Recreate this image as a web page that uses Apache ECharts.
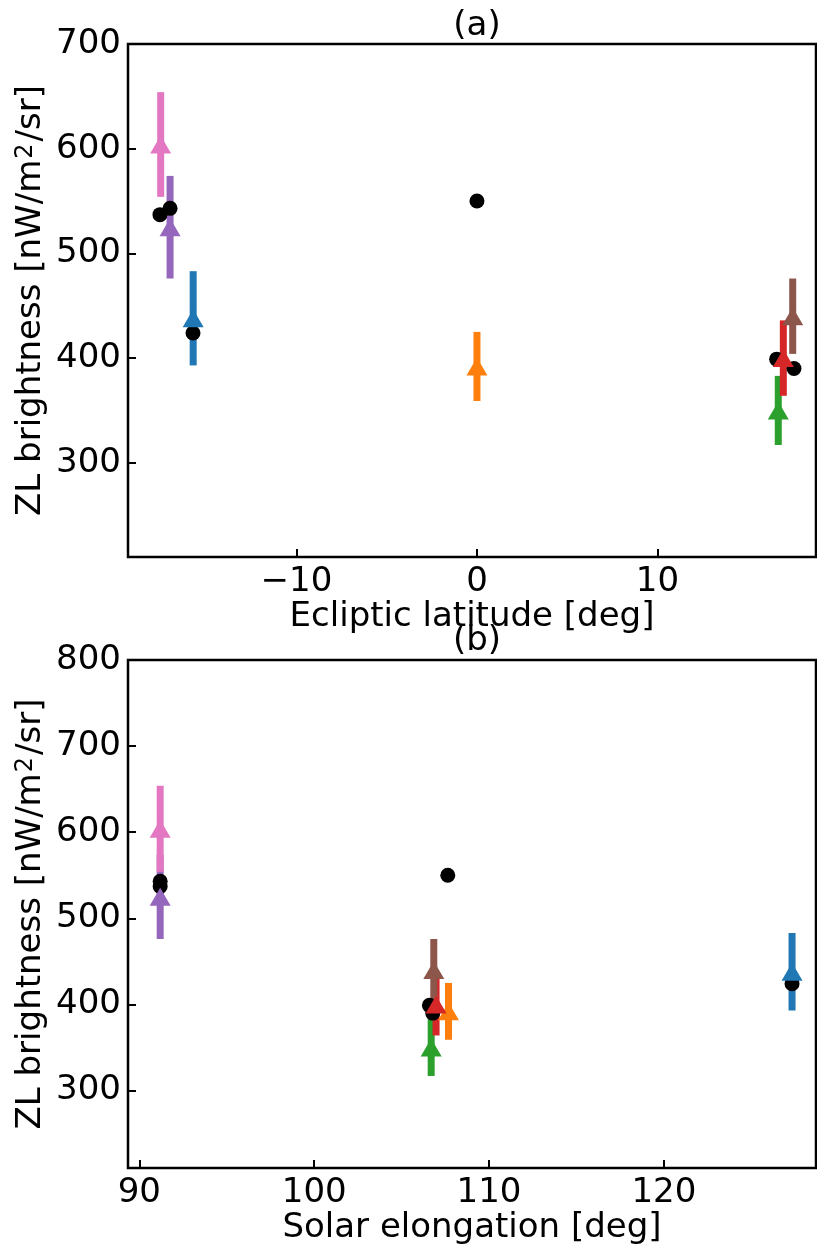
<!DOCTYPE html>
<html><head><meta charset="utf-8">
<script src="https://cdn.jsdelivr.net/npm/echarts@6/dist/echarts.min.js"></script>
<style>html,body{margin:0;padding:0;background:#fff}#c{width:817px;height:1246px}</style>
</head><body><div id="c"></div>
<script>
const fieldColors = ['#1f77b4','#ff7f0e','#2ca02c','#d62728','#9467bd','#8c564b','#e377c2'];
const fieldLatitude = [-15.72, 0.0, 16.69, 16.97, -17.0, 17.49, -17.52];
const fieldElongation = [127.33, 107.68, 106.69, 106.97, 91.19, 106.84, 91.19];
const observedZL = [438, 392, 350, 400, 525, 440, 604];
const observedErr = [45, 33, 33, 36, 49, 36, 50];
const modelLatitude = [-15.73, 0.0, 16.6, -17.0, 17.56, -17.56];
const modelElongation = [127.33, 107.64, 106.59, 91.19, 106.78, 91.19];
const modelZL = [424, 550, 399, 543, 390, 537];
const latTicks = [-10, 0, 10];
const elongTicks = [90, 100, 110, 120];
const zlTicksA = [300, 400, 500, 600, 700];
const zlTicksB = [300, 400, 500, 600, 700, 800];

const FONT = 'DejaVu Sans';
const FS = 34;

function errRender(params, api) {
  const x = api.value(0), lo = api.value(1), hi = api.value(2);
  const p1 = api.coord([x, lo]), p2 = api.coord([x, hi]);
  return {type: 'line', shape: {x1: p1[0], y1: p1[1], x2: p2[0], y2: p2[1]},
    style: {stroke: fieldColors[params.dataIndex], lineWidth: 7}};
}

function xAxisCfg(gi, min, max, ticks, name, gap) {
  return {
    type: 'value', gridIndex: gi, min: min, max: max,
    name: name, nameLocation: 'middle', nameGap: gap,
    nameTextStyle: {fontFamily: FONT, fontSize: FS, color: '#000'},
    axisLine: {show: false, onZero: false},
    axisTick: {show: true, inside: true, length: 8, lineStyle: {color: '#000', width: 2}, customValues: ticks},
    axisLabel: {fontFamily: FONT, fontSize: FS, color: '#000', margin: 8, customValues: ticks,
      formatter: v => (v < 0 ? '\u2212' + Math.abs(v) : String(v))},
    splitLine: {show: false}
  };
}
function yAxisCfg(gi, min, max, ticks) {
  return {
    type: 'value', gridIndex: gi, min: min, max: max,
    name: 'ZL brightness [nW/m{sup|2}/sr]', nameLocation: 'middle', nameGap: 80,
    nameMoveOverlap: false,
    nameTextStyle: {fontFamily: FONT, fontSize: FS, color: '#000',
      rich: {sup: {fontFamily: FONT, fontSize: 24, color: '#000', verticalAlign: 'top', padding: [0, 2, 0, 1]}}},
    axisLine: {show: false, onZero: false},
    axisTick: {show: true, inside: true, length: 8, lineStyle: {color: '#000', width: 2}, customValues: ticks},
    axisLabel: {fontFamily: FONT, fontSize: FS, color: '#000', margin: 7, customValues: ticks},
    splitLine: {show: false}
  };
}

function panelSeries(gi, xs, mxs) {
  const err = xs.map((x, i) => [x, observedZL[i] - observedErr[i], observedZL[i] + observedErr[i]]);
  const obs = xs.map((x, i) => ({value: [x, observedZL[i]], itemStyle: {color: fieldColors[i]}}));
  const mod = mxs.map((x, i) => [x, modelZL[i]]);
  return [
    {type: 'custom', xAxisIndex: gi, yAxisIndex: gi, renderItem: errRender, data: err, z: 1, silent: true},
    {type: 'scatter', xAxisIndex: gi, yAxisIndex: gi, symbol: 'circle', symbolSize: 15,
      itemStyle: {color: '#000', opacity: 1}, data: mod, z: 2, silent: true},
    {type: 'scatter', xAxisIndex: gi, yAxisIndex: gi, symbol: 'triangle', symbolSize: [21, 18],
      itemStyle: {opacity: 1}, data: obs, z: 3, silent: true}
  ];
}

const chart = echarts.init(document.getElementById('c'), null, {renderer: 'canvas'});
chart.setOption({
  animation: false,
  backgroundColor: '#fff',
  title: [
    {text: '(a)', left: 477, top: 9, textAlign: 'center', padding: 0,
      textStyle: {fontFamily: FONT, fontSize: FS, fontWeight: 'normal', color: '#000'}},
    {text: '(b)', left: 477, top: 624, textAlign: 'center', padding: 0,
      textStyle: {fontFamily: FONT, fontSize: FS, fontWeight: 'normal', color: '#000'}}
  ],
  grid: [
    {left: 128, top: 44, width: 688, height: 513, show: true, borderColor: '#000', borderWidth: 2.5, backgroundColor: 'transparent'},
    {left: 128, top: 660, width: 688, height: 512, show: true, borderColor: '#000', borderWidth: 2.5, backgroundColor: 'transparent'}
  ],
  xAxis: [
    xAxisCfg(0, -19.33, 18.78, latTicks, 'Ecliptic latitude [deg]', 37),
    xAxisCfg(1, 89.35, 128.7, elongTicks, 'Solar elongation [deg]', 41)
  ],
  yAxis: [
    yAxisCfg(0, 210, 700, zlTicksA),
    yAxisCfg(1, 210, 800, zlTicksB)
  ],
  series: [].concat(panelSeries(0, fieldLatitude, modelLatitude), panelSeries(1, fieldElongation, modelElongation))
});
</script>
</body></html>
